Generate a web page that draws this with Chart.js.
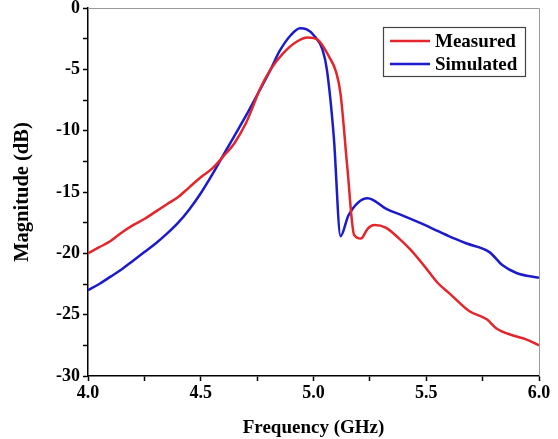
<!DOCTYPE html>
<html>
<head>
<meta charset="utf-8">
<script src="https://cdn.jsdelivr.net/npm/chart.js@4"></script>
<style>
  html, body { margin: 0; padding: 0; background: #fff; }
  #wrap { width: 558px; height: 439px; }
</style>
</head>
<body>
<div id="wrap"><canvas id="chart" width="558" height="439"></canvas></div>
<script>
// Measured curve (GHz, dB)
const freqMeasured = [4.00, 4.05, 4.10, 4.15, 4.20, 4.25, 4.30, 4.35, 4.40, 4.45, 4.50, 4.55, 4.60, 4.65, 4.70, 4.73, 4.76, 4.81, 4.865, 4.925, 4.975, 5.02, 5.07, 5.10, 5.12, 5.15, 5.18, 5.21, 5.24, 5.27, 5.32, 5.38, 5.43, 5.49, 5.55, 5.605, 5.69, 5.77, 5.81, 5.885, 5.94, 6.00];
const magMeasured = [-20.0, -19.5, -19.0, -18.3, -17.7, -17.2, -16.6, -16.0, -15.4, -14.6, -13.8, -13.1, -12.1, -11.0, -9.4, -8.1, -6.7, -5.0, -3.7, -2.75, -2.4, -2.6, -4.0, -5.2, -7.0, -13.0, -18.5, -18.8, -18.0, -17.7, -17.9, -18.8, -19.7, -21.0, -22.4, -23.3, -24.7, -25.4, -26.1, -26.7, -27.0, -27.5];

// Simulated curve (GHz, dB)
const freqSimulated = [4.00, 4.05, 4.10, 4.15, 4.20, 4.25, 4.30, 4.35, 4.40, 4.45, 4.50, 4.55, 4.60, 4.65, 4.70, 4.75, 4.81, 4.85, 4.90, 4.94, 4.97, 5.00, 5.04, 5.06, 5.09, 5.12, 5.155, 5.24, 5.325, 5.38, 5.47, 5.53, 5.60, 5.68, 5.78, 5.84, 5.90, 6.00];
const magSimulated = [-23.0, -22.5, -21.9, -21.3, -20.6, -19.9, -19.2, -18.4, -17.5, -16.4, -15.1, -13.6, -12.0, -10.4, -8.8, -7.1, -5.0, -3.5, -2.2, -1.65, -1.75, -2.2, -3.4, -5.1, -10.5, -18.6, -16.9, -15.5, -16.4, -16.8, -17.5, -18.0, -18.6, -19.2, -19.9, -21.0, -21.6, -22.0];

const xTickLabels = ["4.0", "4.5", "5.0", "5.5", "6.0"];
const yTickLabels = ["0", "-5", "-10", "-15", "-20", "-25", "-30"];

const toPoints = (xs, ys) => xs.map((x, i) => ({ x: x, y: ys[i] }));

const FONT = "'Liberation Serif', 'Times New Roman', serif";

// Gray frame on top and right, legend box
const framePlugin = {
  id: "frame",
  afterDraw(chart) {
    const { ctx, chartArea: a } = chart;
    ctx.save();
    ctx.strokeStyle = "#9a9a9a";
    ctx.lineWidth = 1;
    ctx.beginPath();
    ctx.moveTo(a.left, a.top + 0.5);
    ctx.lineTo(a.right + 0.5, a.top + 0.5);
    ctx.lineTo(a.right + 0.5, a.bottom);
    ctx.stroke();

    // legend
    const bx = 383, by = 27, bw = 142, bh = 49;
    ctx.strokeStyle = "#444";
    ctx.lineWidth = 1.2;
    ctx.strokeRect(bx + 0.5, by + 0.5, bw, bh);
    ctx.font = "bold 19px " + FONT;
    ctx.textBaseline = "middle";
    ctx.fillStyle = "#000";
    chart.data.datasets.forEach((ds, i) => {
      const y = by + 14 + i * 23;
      ctx.strokeStyle = ds.borderColor;
      ctx.lineWidth = 2.5;
      ctx.beginPath();
      ctx.moveTo(bx + 7, y);
      ctx.lineTo(bx + 47, y);
      ctx.stroke();
      ctx.fillText(ds.label, bx + 52, y + 1);
    });
    ctx.restore();
  },
};

new Chart(document.getElementById("chart"), {
  type: "line",
  data: {
    datasets: [
      {
        label: "Measured",
        data: toPoints(freqMeasured, magMeasured),
        borderColor: "#e3262b",
        borderWidth: 2.5,
        pointRadius: 0,
        cubicInterpolationMode: "monotone",
      },
      {
        label: "Simulated",
        data: toPoints(freqSimulated, magSimulated),
        borderColor: "#1b1bcc",
        borderWidth: 2.5,
        pointRadius: 0,
        cubicInterpolationMode: "monotone",
      },
    ],
  },
  options: {
    responsive: false,
    animation: false,
    layout: { padding: { top: 8, right: 19, left: 0, bottom: 0 } },
    plugins: { legend: { display: false }, tooltip: { enabled: false } },
    scales: {
      x: {
        type: "linear",
        min: 4.0,
        max: 6.0,
        afterFit: (s) => { s.height = 63; s.paddingLeft = 0; s.paddingRight = 0; },
        afterBuildTicks: (s) => {
          s.ticks = [];
          for (let v = 4.0; v <= 6.0001; v += 0.25) s.ticks.push({ value: +v.toFixed(2) });
        },
        ticks: {
          autoSkip: false,
          maxRotation: 0,
          padding: 2,
          color: "#000",
          font: { family: FONT, size: 18, weight: "bold" },
          callback: (v) => {
            const i = Math.round((v - 4.0) / 0.5);
            return Math.abs(v - 4.0 - i * 0.5) < 1e-6 ? xTickLabels[i] : "";
          },
        },
        grid: { drawOnChartArea: false, drawTicks: true, tickLength: 5, tickColor: "#000", tickWidth: 1.5 },
        border: { display: true, color: "#000", width: 1.5 },
        title: {
          display: true,
          text: "Frequency (GHz)",
          color: "#000",
          font: { family: FONT, size: 19, weight: "bold" },
          padding: { top: 8, bottom: 0 },
        },
      },
      y: {
        min: -30,
        max: 0,
        afterFit: (s) => { s.width = 88; s.paddingTop = 0; s.paddingBottom = 0; },
        afterBuildTicks: (s) => {
          s.ticks = [];
          for (let v = -30; v <= 0.001; v += 2.5) s.ticks.push({ value: v });
        },
        ticks: {
          autoSkip: false,
          padding: 3,
          color: "#000",
          font: { family: FONT, size: 18, weight: "bold" },
          callback: (v) => {
            const i = Math.round(-v / 5);
            return Math.abs(-v - i * 5) < 1e-6 ? yTickLabels[i] : "";
          },
        },
        grid: { drawOnChartArea: false, drawTicks: true, tickLength: 5, tickColor: "#000", tickWidth: 1.5 },
        border: { display: true, color: "#000", width: 1.5 },
        title: {
          display: true,
          text: "Magnitude (dB)",
          color: "#000",
          font: { family: FONT, size: 20.5, weight: "bold" },
          padding: { top: 10, bottom: 0 },
        },
      },
    },
  },
  plugins: [framePlugin],
});
</script>
</body>
</html>
